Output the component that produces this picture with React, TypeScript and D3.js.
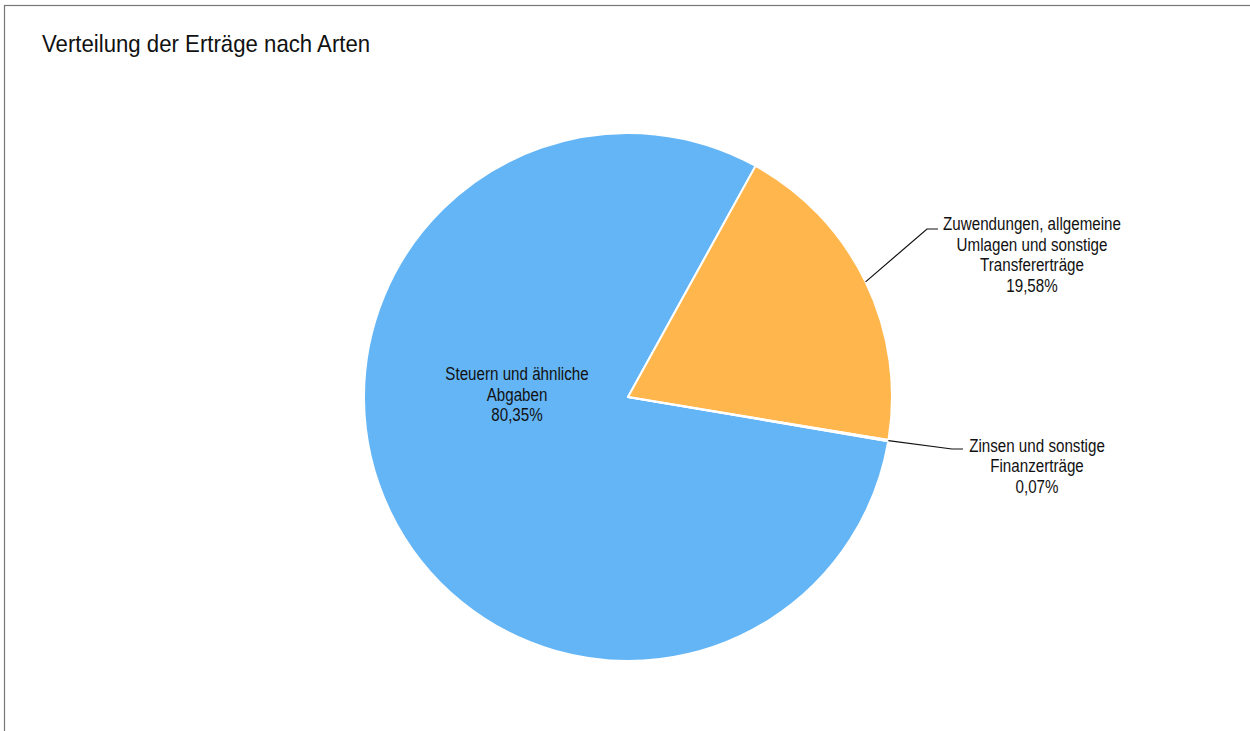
import React from "react";
import * as d3 from "d3";

const categories = [
  "Steuern und ähnliche Abgaben",
  "Zuwendungen, allgemeine Umlagen und sonstige Transfererträge",
  "Zinsen und sonstige Finanzerträge",
];
const values = [80.35, 19.58, 0.07];
const valueLabels = ["80,35%", "19,58%", "0,07%"];
const labelLines = [
  ["Steuern und ähnliche", "Abgaben"],
  ["Zuwendungen, allgemeine", "Umlagen und sonstige", "Transfererträge"],
  ["Zinsen und sonstige", "Finanzerträge"],
];
const colors = ["#64B5F6", "#FFB74D", "#FFB74D"];

const W = 1250;
const H = 731;
const cx = 628;
const cy = 397;
const R = 264;
const startDeg = 99.64;
const FONT = "'Liberation Sans', Arial, sans-serif";
const LABEL_SIZE = 18.5;
const LABEL_SX = 0.82;
const LINE_H = 20.7;

// layout: label placement (inside / outside with leader elbow); y = first baseline
const labelLayout = [
  { inside: true, textX: 517, textY: 380 },
  { inside: false, elbowX: 927, elbowY: 229, endX: 938, textX: 1032, textY: 230 },
  { inside: false, elbowX: 952, elbowY: 449, endX: 963, textX: 1037, textY: 451.5 },
];

function Label({ x, y, lines }: { x: number; y: number; lines: string[] }) {
  return (
    <g transform={`translate(${x},${y}) scale(${LABEL_SX},1)`}>
      <text fontFamily={FONT} fontSize={LABEL_SIZE} fill="#111" textAnchor="middle">
        {lines.map((l, j) => (
          <tspan key={j} x={0} y={j * LINE_H}>
            {l}
          </tspan>
        ))}
      </text>
    </g>
  );
}

export default function App() {
  const data = values.map((v, i) => ({ v, i, name: categories[i] }));
  const pie = d3
    .pie<{ v: number; i: number; name: string }>()
    .sort(null)
    .value((d) => d.v)
    .startAngle((startDeg * Math.PI) / 180)
    .endAngle((startDeg * Math.PI) / 180 + 2 * Math.PI);
  const arcs = pie(data);
  const arc = d3
    .arc<d3.PieArcDatum<{ v: number; i: number; name: string }>>()
    .innerRadius(0)
    .outerRadius(R);

  return (
    <svg width={W} height={H} style={{ position: "absolute", left: 0, top: 0, background: "#fff" }}>
      <rect x={4.5} y={5.5} width={W + 10} height={H + 10} fill="#fff" stroke="#777" strokeWidth={1.2} />
      <g transform={`translate(42,51.5) scale(0.925,1)`}>
        <text x={0} y={0} fontFamily={FONT} fontSize={24} fill="#111">
          Verteilung der Erträge nach Arten
        </text>
      </g>
      <g transform={`translate(${cx},${cy})`}>
        {arcs.map((a, k) => (
          <path key={k} d={arc(a) || ""} fill={colors[a.data.i]} stroke="#fff" strokeWidth={2} strokeLinejoin="round">
            <title>{a.data.name}</title>
          </path>
        ))}
      </g>
      {arcs.map((a, k) => {
        const lay: any = labelLayout[k];
        const lines = [...labelLines[k], valueLabels[k]];
        if (lay.inside) {
          return <Label key={k} x={lay.textX} y={lay.textY} lines={lines} />;
        }
        const mid = (a.startAngle + a.endAngle) / 2;
        const sx = cx + Math.sin(mid) * R;
        const sy = cy - Math.cos(mid) * R;
        return (
          <g key={k}>
            <polyline
              points={`${sx},${sy} ${lay.elbowX},${lay.elbowY} ${lay.endX},${lay.elbowY}`}
              fill="none"
              stroke="#111"
              strokeWidth={1.2}
            />
            <Label x={lay.textX} y={lay.textY} lines={lines} />
          </g>
        );
      })}
    </svg>
  );
}
